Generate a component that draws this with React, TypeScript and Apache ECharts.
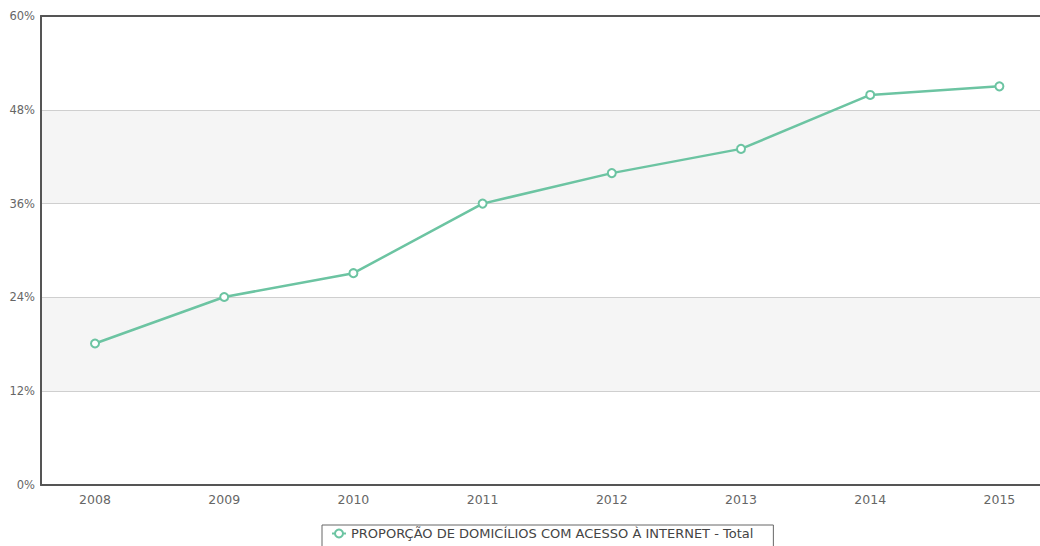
import React, { useEffect, useRef } from "react";
import * as echarts from "echarts";

const years = [2008, 2009, 2010, 2011, 2012, 2013, 2014, 2015];
const totalValues = [18.1, 24.05, 27.1, 36.0, 39.9, 43.0, 49.9, 51.0];
const yTicks = [0, 12, 24, 36, 48, 60];
const seriesName = "PROPORÇÃO DE DOMICÍLIOS COM ACESSO À INTERNET - Total";

export default function App() {
  const ref = useRef<HTMLDivElement>(null);
  useEffect(() => {
    if (!ref.current) return;
    const chart = echarts.init(ref.current, null, { renderer: "svg" });
    const green = "#6cc4a2";
    const font = "DejaVu Sans";
    chart.setOption({
      animation: false,
      grid: { left: 41, right: 0, top: 16, bottom: 61 },
      legend: {
        show: true,
        left: 322,
        top: 525,
        padding: [2, 20, 12, 9],
        borderColor: "#666",
        borderWidth: 1,
        itemWidth: 14,
        itemHeight: 10,
        textStyle: { fontFamily: font, fontSize: 13, color: "#444" },
        data: [seriesName],
      },
      xAxis: [
        {
          type: "value",
          min: 2007.582,
          max: 2015.5,
          z: 10,
          axisLine: { show: true, onZero: false, lineStyle: { color: "#555", width: 2 } },
          axisTick: { show: false },
          splitLine: { show: false },
          axisLabel: {
            customValues: years,
            formatter: (v: number) => String(v),
            color: "#666",
            fontFamily: font,
            fontSize: 12.5,
            margin: 8,
          },
        },
        {
          type: "value",
          position: "top",
          min: 2007.582,
          max: 2015.5,
          z: 10,
          axisLine: { show: true, onZero: false, lineStyle: { color: "#555", width: 2 } },
          axisTick: { show: false },
          splitLine: { show: false },
          axisLabel: { show: false },
        },
      ],
      yAxis: {
        type: "value",
        min: yTicks[0],
        max: yTicks[yTicks.length - 1],
        interval: 12,
        z: 10,
        axisLine: { show: true, lineStyle: { color: "#555", width: 2 } },
        axisTick: { show: false },
        axisLabel: {
          formatter: "{value}%",
          color: "#666",
          fontFamily: font,
          fontSize: 11.5,
          margin: 6,
        },
        splitLine: { show: true, lineStyle: { color: "#cfcfcf", width: 1 } },
        splitArea: { show: true, areaStyle: { color: ["#ffffff", "#f5f5f5"] } },
      },
      series: [
        {
          name: seriesName,
          type: "line",
          xAxisIndex: 0,
          z: 20,
          data: years.map((y, i) => [y, totalValues[i]]),
          symbol: "emptyCircle",
          symbolSize: 8,
          lineStyle: { color: green, width: 2.5 },
          itemStyle: { color: green, borderColor: green, borderWidth: 1.5 },
        },
      ],
    });
    return () => chart.dispose();
  }, []);
  return (
    <div style={{ position: "absolute", left: 0, top: 0, width: 1040, height: 546, overflow: "hidden" }}>
      <div ref={ref} style={{ width: 1064, height: 546 }} />
    </div>
  );
}
